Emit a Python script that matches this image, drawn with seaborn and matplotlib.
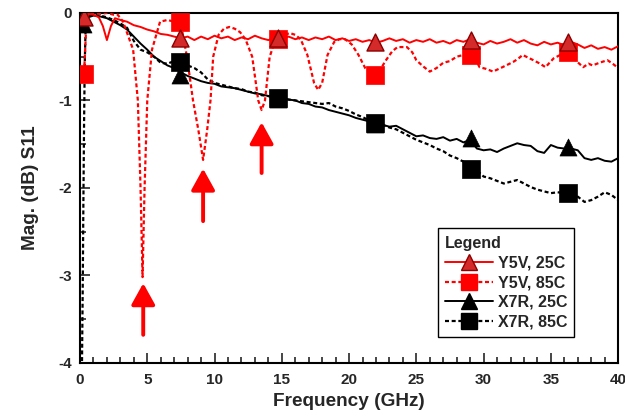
import matplotlib
matplotlib.use('Agg')
import matplotlib.pyplot as plt
from matplotlib.lines import Line2D
from matplotlib.ticker import MultipleLocator
import seaborn as sns

# Y5V, 25C (red solid)
y5v25_x = [0.3, 0.6, 1.0, 1.4, 1.7, 2.0, 2.3, 2.6, 3.0, 3.5, 4.0, 4.5, 5.0, 5.5, 6.0, 6.5, 7.0, 7.5,
           8.0, 8.5, 9.0, 9.5, 10.0, 10.5, 11.0, 11.5, 12.0, 12.5, 13.0, 13.5, 14.0, 14.5, 15.0, 15.5,
           16.0, 16.5, 17.0, 17.5, 18.0, 18.5, 19.0, 19.5, 20.0, 20.5, 21.0, 21.5, 22.0, 22.5, 23.0,
           23.5, 24.0, 24.5, 25.0, 25.5, 26.0, 26.5, 27.0, 27.5, 28.0, 28.5, 29.0, 29.5, 30.0, 30.5,
           31.0, 31.5, 32.0, 32.5, 33.0, 33.5, 34.0, 34.5, 35.0, 35.5, 36.0, 36.5, 37.0, 37.5, 38.0,
           38.5, 39.0, 39.5, 40.0]
y5v25_y = [-0.05, -0.01, -0.02, -0.05, -0.15, -0.31, -0.15, -0.06, -0.08, -0.10, -0.14, -0.16, -0.19,
           -0.21, -0.24, -0.25, -0.27, -0.29, -0.27, -0.31, -0.27, -0.30, -0.26, -0.29, -0.27, -0.31,
           -0.28, -0.30, -0.26, -0.29, -0.31, -0.28, -0.30, -0.27, -0.30, -0.28, -0.31, -0.28, -0.30,
           -0.27, -0.31, -0.29, -0.32, -0.30, -0.33, -0.31, -0.34, -0.32, -0.29, -0.32, -0.30, -0.34,
           -0.31, -0.33, -0.30, -0.34, -0.32, -0.35, -0.31, -0.33, -0.30, -0.34, -0.36, -0.32, -0.35,
           -0.33, -0.30, -0.34, -0.31, -0.35, -0.37, -0.33, -0.36, -0.34, -0.37, -0.33, -0.36, -0.40,
           -0.37, -0.41, -0.39, -0.42, -0.38]

# Y5V, 85C (red dashed)
y5v85_x = [0.25, 0.3, 0.45, 0.6, 1.0, 1.5, 2.0, 2.5, 2.8, 3.2, 3.95, 4.3, 4.5, 4.65, 4.8, 5.0, 5.35,
           5.95, 6.5, 7.0, 7.5, 7.95, 8.4, 8.8, 9.15, 9.45, 9.7, 9.9, 10.3, 10.7, 11.1, 11.5, 11.9,
           12.3, 12.8, 13.25, 13.5, 13.75, 14.1, 14.5, 14.8, 15.2, 15.6, 16.0, 16.4, 16.9, 17.4, 17.7,
           18.0, 18.4, 18.9, 19.3, 19.7, 20.2, 20.7, 21.2, 21.7, 22.2, 22.7, 23.2, 23.6, 24.3, 24.7,
           25.0, 25.5, 26.0, 26.5, 27.0, 27.5, 28.0, 28.5, 29.2, 29.7, 30.2, 30.7, 31.4, 31.8, 32.2,
           32.6, 32.9, 33.3, 33.7, 34.2, 34.6, 35.2, 35.7, 36.3, 36.9, 37.4, 37.8, 38.1, 38.6, 39.2,
           39.6, 40.0]
y5v85_y = [-0.75, -0.70, -0.20, -0.02, 0.00, -0.01, 0.00, -0.02, -0.02, -0.10, -0.42, -1.00, -2.00,
           -3.02, -2.00, -1.00, -0.42, -0.10, -0.08, -0.10, -0.13, -0.50, -1.00, -1.34, -1.68, -1.34,
           -1.00, -0.50, -0.25, -0.18, -0.16, -0.18, -0.22, -0.30, -0.50, -1.00, -1.11, -1.00, -0.50,
           -0.32, -0.28, -0.25, -0.23, -0.25, -0.30, -0.48, -0.80, -0.88, -0.80, -0.48, -0.33, -0.30,
           -0.30, -0.36, -0.48, -0.63, -0.70, -0.68, -0.55, -0.44, -0.39, -0.39, -0.45, -0.54, -0.61,
           -0.67, -0.63, -0.57, -0.55, -0.50, -0.48, -0.47, -0.62, -0.64, -0.67, -0.62, -0.59, -0.56,
           -0.52, -0.48, -0.51, -0.54, -0.58, -0.62, -0.52, -0.48, -0.45, -0.55, -0.62, -0.58, -0.60,
           -0.57, -0.54, -0.58, -0.63]

# X7R, 25C (black solid)
x7r25_x = [0.3, 0.6, 1.0, 1.5, 2.0, 2.5, 3.0, 3.5, 4.0, 4.5, 5.0, 5.5, 6.0, 6.5, 7.0, 7.5, 8.0, 8.5,
           9.0, 9.5, 10.0, 10.5, 11.0, 11.5, 12.0, 12.5, 13.0, 13.5, 14.0, 14.5, 15.0, 15.5, 16.0,
           16.5, 17.0, 17.5, 18.0, 18.5, 19.0, 19.5, 20.0, 20.5, 21.0, 21.5, 22.0, 22.5, 23.0, 23.5,
           24.0, 24.5, 25.0, 25.5, 26.0, 26.5, 27.0, 27.5, 28.0, 28.5, 29.0, 29.5, 30.0, 30.5, 31.0,
           31.5, 32.0, 32.5, 33.0, 33.5, 34.0, 34.5, 35.0, 35.5, 36.0, 36.5, 37.0, 37.5, 38.0, 38.5,
           39.0, 39.5, 40.0]
x7r25_y = [-0.10, -0.05, -0.03, -0.04, -0.06, -0.10, -0.14, -0.19, -0.27, -0.35, -0.42, -0.50, -0.55,
           -0.60, -0.63, -0.68, -0.72, -0.75, -0.78, -0.80, -0.81, -0.84, -0.85, -0.86, -0.88, -0.90,
           -0.92, -0.93, -0.95, -0.97, -0.98, -0.99, -1.00, -1.03, -1.04, -1.07, -1.08, -1.11, -1.13,
           -1.15, -1.17, -1.20, -1.22, -1.24, -1.26, -1.28, -1.30, -1.29, -1.33, -1.37, -1.41, -1.40,
           -1.43, -1.44, -1.42, -1.46, -1.44, -1.48, -1.45, -1.55, -1.57, -1.56, -1.59, -1.55, -1.52,
           -1.49, -1.51, -1.52, -1.58, -1.60, -1.51, -1.54, -1.55, -1.55, -1.57, -1.66, -1.68, -1.66,
           -1.69, -1.70, -1.66]

# X7R, 85C (black dashed)
x7r85_x = [0.15, 0.2, 0.25, 0.3, 0.35, 0.42, 0.6, 1.0, 1.5, 2.0, 2.5, 3.0, 3.5, 4.0, 4.5, 5.0, 5.5,
           6.0, 6.5, 7.0, 7.5, 8.0, 8.5, 9.0, 9.5, 10.0, 10.5, 11.0, 11.5, 12.0, 12.5, 13.0, 13.5,
           14.0, 14.5, 15.0, 15.5, 16.0, 16.5, 17.0, 17.5, 18.0, 18.5, 19.0, 19.5, 20.0, 20.5, 21.0,
           21.5, 22.0, 22.5, 23.0, 23.5, 24.0, 24.5, 25.0, 25.5, 26.0, 26.5, 27.0, 27.5, 28.0, 28.5,
           29.0, 29.5, 30.0, 30.5, 31.0, 31.5, 32.0, 32.5, 33.0, 33.5, 34.0, 34.5, 35.0, 35.5, 36.0,
           36.5, 37.0, 37.5, 38.0, 38.5, 39.0, 39.5, 40.0]
x7r85_y = [-3.98, -3.20, -2.20, -1.30, -0.60, -0.15, -0.03, -0.02, -0.03, -0.05, -0.08, -0.12, -0.17,
           -0.32, -0.42, -0.45, -0.50, -0.57, -0.58, -0.55, -0.56, -0.60, -0.63, -0.68, -0.76, -0.80,
           -0.82, -0.84, -0.86, -0.87, -0.90, -0.91, -0.94, -0.95, -0.97, -0.97, -0.99, -1.00, -1.01,
           -1.02, -1.03, -1.04, -1.03, -1.07, -1.09, -1.12, -1.16, -1.19, -1.23, -1.26, -1.28, -1.31,
           -1.33, -1.37, -1.41, -1.45, -1.48, -1.51, -1.55, -1.58, -1.63, -1.66, -1.70, -1.75, -1.80,
           -1.87, -1.89, -1.92, -1.95, -1.93, -1.91, -1.95, -1.99, -2.02, -2.04, -2.06, -2.05, -2.06,
           -2.07, -2.10, -2.16, -2.14, -2.10, -2.05, -2.08, -2.14]

# marker points
mk_y5v25_x = [0.3, 7.4, 14.7, 21.9, 29.1, 36.3]
mk_y5v25_y = [-0.05, -0.29, -0.29, -0.33, -0.31, -0.33]
mk_y5v85_x = [0.3, 7.45, 14.7, 21.9, 29.1, 36.3]
mk_y5v85_y = [-0.70, -0.10, -0.30, -0.71, -0.48, -0.45]
mk_x7r25_x = [0.25, 7.45, 14.7, 21.9, 29.1, 36.3]
mk_x7r25_y = [-0.13, -0.71, -0.98, -1.27, -1.43, -1.53]
mk_x7r85_x = [7.45, 14.7, 21.9, 29.1, 36.3]
mk_x7r85_y = [-0.56, -0.97, -1.26, -1.78, -2.06]

# arrows under the resonance dips
arrow_x = [4.7, 9.15, 13.5]
arrow_tip = [-3.09, -1.78, -1.25]
arrow_tail = [-3.68, -2.38, -1.83]

labels = ['Y5V, 25C', 'Y5V, 85C', 'X7R, 25C', 'X7R, 85C']

sns.set_style('ticks')
plt.rcParams['font.family'] = ['Liberation Sans', 'DejaVu Sans']
plt.rcParams['font.weight'] = 'bold'
plt.rcParams['axes.unicode_minus'] = False

fig = plt.figure(figsize=(6.25, 4.18), dpi=100)
ax = fig.add_axes([0.128, 0.132, 0.861, 0.837])

red = '#ff0000'
dash = (0, (1.8, 1.2))

sns.lineplot(x=x7r25_x, y=x7r25_y, ax=ax, color='black', linewidth=1.4, sort=False, estimator=None, zorder=2)
sns.lineplot(x=x7r85_x, y=x7r85_y, ax=ax, color='black', linewidth=1.6, linestyle=dash, sort=False, estimator=None, zorder=2)
sns.lineplot(x=y5v25_x, y=y5v25_y, ax=ax, color=red, linewidth=1.4, sort=False, estimator=None, zorder=3)
sns.lineplot(x=y5v85_x, y=y5v85_y, ax=ax, color=red, linewidth=1.6, linestyle=dash, sort=False, estimator=None, zorder=3)

sns.scatterplot(x=mk_x7r25_x, y=mk_x7r25_y, ax=ax, marker='^', s=150, color='black', edgecolor='black', linewidth=0.5, zorder=4)
sns.scatterplot(x=mk_x7r85_x, y=mk_x7r85_y, ax=ax, marker='s', s=150, color='black', edgecolor='black', linewidth=0.5, zorder=5)
sns.scatterplot(x=mk_y5v85_x, y=mk_y5v85_y, ax=ax, marker='s', s=150, color=red, edgecolor=red, linewidth=0.5, zorder=6)
sns.scatterplot(x=mk_y5v25_x, y=mk_y5v25_y, ax=ax, marker='^', s=150, color='#d42a2a', edgecolor='#8b0000', linewidth=1.0, zorder=7)

for ax_x, tip, tail in zip(arrow_x, arrow_tip, arrow_tail):
    ax.annotate('', xy=(ax_x, tip), xytext=(ax_x, tail),
                arrowprops=dict(arrowstyle='-|>,head_width=0.36,head_length=0.65',
                                color=red, lw=2.8, mutation_scale=20, shrinkA=0, shrinkB=0),
                zorder=8)

ax.set_xlim(0, 40)
ax.set_ylim(-4, 0)
ax.xaxis.set_major_locator(MultipleLocator(5))
ax.xaxis.set_minor_locator(MultipleLocator(1))
ax.yaxis.set_major_locator(MultipleLocator(1))
ax.yaxis.set_minor_locator(MultipleLocator(0.5))
ax.tick_params(which='both', direction='in', top=False, right=False, width=1.2, labelsize=11)
ax.tick_params(axis='x', pad=7)
ax.tick_params(axis='y', pad=6)
ax.tick_params(which='major', length=7)
ax.tick_params(which='minor', length=4)
for lab in ax.get_xticklabels() + ax.get_yticklabels():
    lab.set_fontweight('bold')
for sp in ax.spines.values():
    sp.set_linewidth(1.5)
    sp.set_color('black')

ax.set_xlabel('Frequency (GHz)', fontsize=13.7, fontweight='bold', labelpad=5)
ax.set_ylabel('Mag. (dB) S11', fontsize=13.7, fontweight='bold', labelpad=14)

handles = [
    Line2D([], [], color=red, lw=1.4, marker='^', ms=12, mfc='#d42a2a', mec='#8b0000'),
    Line2D([], [], color=red, lw=1.6, ls=dash, marker='s', ms=12, mfc=red, mec=red),
    Line2D([], [], color='black', lw=1.4, marker='^', ms=12, mfc='black', mec='black'),
    Line2D([], [], color='black', lw=1.6, ls=dash, marker='s', ms=12, mfc='black', mec='black'),
]
leg = ax.legend(handles, labels, title='Legend', loc='lower left', bbox_to_anchor=(0.665, 0.074),
                borderaxespad=0, fancybox=False, framealpha=1, edgecolor='black', handlelength=3.0,
                handletextpad=0.3, labelspacing=0.3, borderpad=0.45,
                prop={'size': 11.5, 'weight': 'bold'}, title_fontproperties={'size': 11.5, 'weight': 'bold'})
leg.get_frame().set_linewidth(1.0)
leg._legend_box.align = 'left'

fig.savefig('out.png', dpi=100)
